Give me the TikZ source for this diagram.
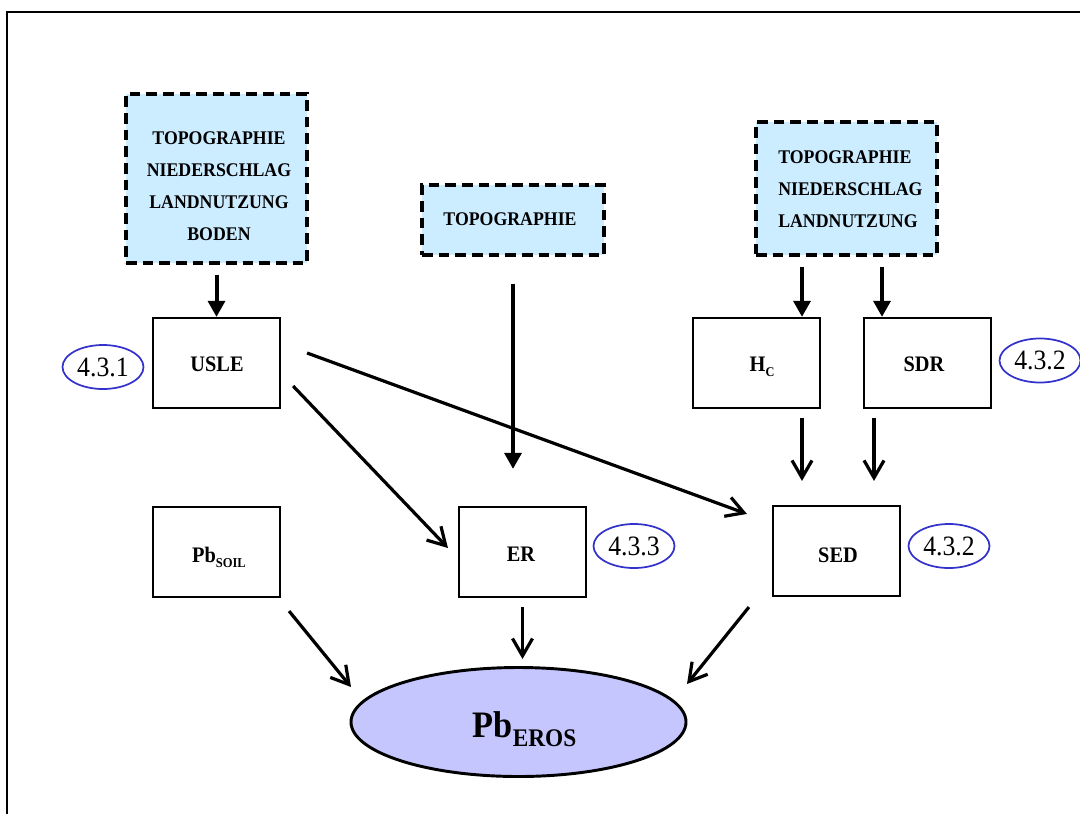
\documentclass[tikz,border=0pt]{standalone}
\usepackage{fontspec}
\setmainfont{Liberation Serif}
\usetikzlibrary{arrows.meta,calc,shapes.geometric}

\definecolor{inputfill}{RGB}{204,236,255}
\definecolor{erosfill}{RGB}{198,198,255}
\definecolor{refblue}{RGB}{51,51,204}

% slightly condensed lettering
\newcommand{\nar}[1]{\scalebox{0.92}[1]{#1}}

\tikzset{
  inbox/.style={draw=black, fill=inputfill, line width=2.3pt,
    dash pattern=on 8pt off 4.5pt, inner sep=0pt},
  listtext/.style={inner sep=0pt, font=\fontsize{14.5}{24}\selectfont\bfseries},
  modelbox/.style={draw=black, line width=1.6pt, fill=white,
    minimum width=95.25pt, minimum height=67.5pt, inner sep=0pt,
    font=\fontsize{16.6}{17}\selectfont\bfseries},
  secref/.style={ellipse, draw=refblue, line width=1.3pt,
    minimum width=60.75pt, minimum height=33pt, inner sep=0pt,
    font=\fontsize{21}{22}\selectfont},
  resultnode/.style={ellipse, draw=black, line width=2.2pt, fill=erosfill,
    minimum width=251.25pt, minimum height=81.75pt, inner sep=0pt},
  feed/.style={line width=3pt, -{Triangle[length=12pt,width=12.5pt]}},
  flow/.style={line width=2.4pt, -{Straight Barb[length=13pt,width=15pt]}}
}

\begin{document}
\begin{tikzpicture}[x=0.75pt, y=-0.75pt]
\useasboundingbox (0,0) rectangle (1080,814);

% outer frame (top and left edges)
\draw[line width=1.5pt] (7,814) -- (7,12) -- (1080,12);

% input data boxes
\node[inbox, minimum width=135.75pt, minimum height=126.75pt] (inL) at (216.5,178.5) {};
\node[listtext, align=center] (inLtxt) at (219,186.5)
  {\nar{TOPOGRAPHIE}\\\nar{NIEDERSCHLAG}\\\nar{LANDNUTZUNG}\\\nar{BODEN}};
\node[inbox, minimum width=136.5pt, minimum height=52.5pt] (inM) at (513,220) {};
\node[listtext] (inMtxt) at (510,219) {\nar{TOPOGRAPHIE}};
\node[inbox, minimum width=135.75pt, minimum height=99.75pt] (inR) at (846.5,188.5) {};
\node[listtext, align=left, anchor=west] (inRtxt) at (778,189)
  {\nar{TOPOGRAPHIE}\\\nar{NIEDERSCHLAG}\\\nar{LANDNUTZUNG}};

% model components
\node[modelbox] (usle) at (216.5,363) {};
\node[modelbox] (hc) at (756.5,363) {};
\node[modelbox] (sdr) at (927.5,363) {};
\node[modelbox] (soil) at (216.5,552) {};
\node[modelbox] (er) at (522.5,552) {};
\node[modelbox] (sed) at (836.5,551) {};
\tikzset{lbl/.style={anchor=base, inner sep=0pt, font=\fontsize{16.6}{17}\selectfont\bfseries}}
\node[lbl] (usletxt) at (217,371) {\nar{USLE}};
\node[lbl] (hctxt) at (762,371) {\nar{H\raisebox{-4pt}{\fontsize{10}{10}\selectfont C}}};
\node[lbl] (sdrtxt) at (924,371) {\nar{SDR}};
\node[lbl] (soiltxt) at (219,562) {\nar{Pb\raisebox{-4pt}{\fontsize{10.2}{10}\selectfont SOIL}}};
\node[lbl] (ertxt) at (521,561) {\nar{ER}};
\node[lbl] (sedtxt) at (838,562) {\nar{SED}};

% section references
\node[secref] (ref1) at (103,367) {\nar{4.3.1}};
\node[secref] (ref2) at (1040,360.5) {\nar{4.3.2}};
\node[secref] (ref3) at (634,546) {\nar{4.3.3}};
\node[secref] (ref4) at (949,546) {\nar{4.3.2}};

% result
\node[resultnode] (eros) at (518.5,722) {};
\node[anchor=base, inner sep=0pt, font=\bfseries] (erostxt) at (524.5,737)
  {\nar{\fontsize{28}{28}\selectfont Pb\raisebox{-7pt}{\fontsize{19}{19}\selectfont EROS}}};

% inputs feeding the models
\draw[feed] ($(inL.south)+(0,10)$) -- (usle.north);
\draw[feed] ($(inM.south)+(0,27)$) -- ($(inM.south |- er.north)+(0,-37)$);
\draw[feed] ($(inR.south)+(-44.5,10)$) -- ($(hc.north)+(45.5,0)$);
\draw[feed] ($(inR.south)+(35.5,10)$) -- ($(sdr.north)+(-45.5,0)$);

% flows between the models
\draw[flow] ($(usle.east)+(12,23)$) -- ($(er.west)+(-10,-4)$);
\draw[flow] ($(usle.east)+(26,-10)$) -- ($(sed.north west)+(-25,9)$);
\draw[flow] ($(hc.south)+(45.5,9)$) -- ($(sed.north)+(-34.5,-24)$);
\draw[flow] ($(sdr.south)+(-53.5,9)$) -- ($(sed.north)+(37.5,-24)$);

% flows into the result
\draw[flow] ($(soil.south east)+(8,13)$) -- ($(eros.center)+(-167.5,-35)$);
\draw[flow] ($(er.south)+(0,9)$) -- ($(er.south |- eros.north)+(0,-7)$);
\draw[flow] ($(sed.south west)+(-23,10)$) -- ($(eros.center)+(168.5,-38)$);
\end{tikzpicture}
\end{document}
